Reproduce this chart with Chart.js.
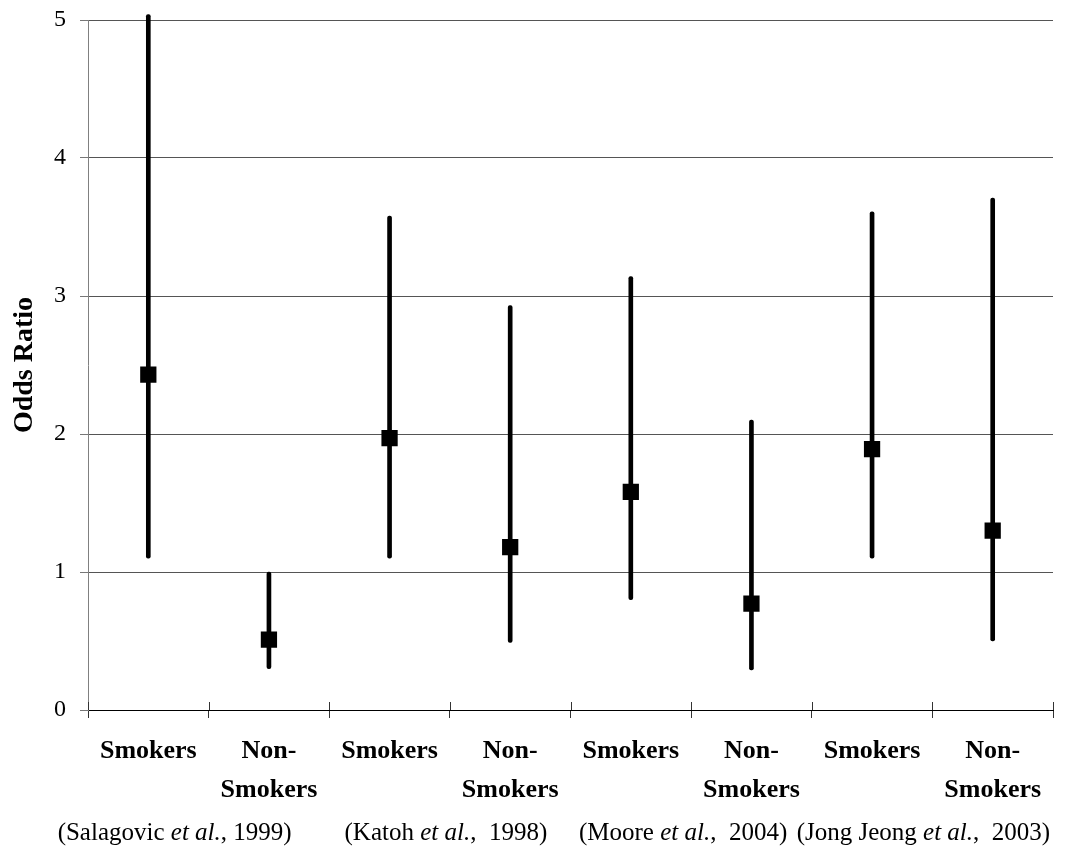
<!DOCTYPE html>
<html>
<head>
<meta charset="utf-8">
<script src="https://cdn.jsdelivr.net/npm/chart.js@4.4.1/dist/chart.umd.min.js"></script>
<style>
  html, body { margin: 0; padding: 0; background: #ffffff; }
  #wrap { width: 1078px; height: 848px; }
</style>
</head>
<body>
<div id="wrap"><canvas id="c" width="1078" height="848"></canvas></div>
<script>
// ---- data ----
const categories = [["Smokers"], ["Non-", "Smokers"], ["Smokers"], ["Non-", "Smokers"],
                    ["Smokers"], ["Non-", "Smokers"], ["Smokers"], ["Non-", "Smokers"]];
const oddsRatio = [2.43, 0.51, 1.97, 1.18, 1.58, 0.77, 1.89, 1.30];
const ciLower   = [1.10, 0.30, 1.10, 0.49, 0.80, 0.29, 1.10, 0.50];
const ciUpper   = [5.04, 1.00, 3.58, 2.93, 3.14, 2.10, 3.61, 3.71];
const studyAuthors = ["Salagovic", "Katoh", "Moore", "Jong Jeong"];
const studyYears   = ["1999", "1998", "2004", "2003"];
const studySep     = [", ", ",  ", ",  ", ",  "];
const yTicks = [0, 1, 2, 3, 4, 5];

const SERIF = "'Liberation Serif', 'Times New Roman', serif";

const ciRanges = ciLower.map((lo, i) => [lo, ciUpper[i]]);

// inner half of the category tick marks (ticks cross the axis line)
const crossTicks = {
  id: 'crossTicks',
  afterDraw(chart) {
    const xs = chart.scales.x;
    const ctx = chart.ctx;
    const n = categories.length;
    const step = xs.getPixelForValue(1) - xs.getPixelForValue(0);
    const start = xs.getPixelForValue(0) - step / 2;
    const yb = chart.chartArea.bottom;
    ctx.save();
    ctx.strokeStyle = '#333333';
    ctx.lineWidth = 1;
    ctx.beginPath();
    for (let i = 0; i <= n; i++) {
      const x = Math.round(start + i * step) + 0.5;
      ctx.moveTo(x, yb - 8);
      ctx.lineTo(x, yb);
    }
    ctx.stroke();
    ctx.restore();
  }
};

// study labels below each Smokers / Non-Smokers pair
const studyLabels = {
  id: 'studyLabels',
  afterDraw(chart) {
    const xs = chart.scales.x;
    const ctx = chart.ctx;
    const offsets = [-34, -4, -8, -9];
    const y = 840;
    const normal = "25px " + SERIF;
    const italic = "italic 25px " + SERIF;
    ctx.save();
    ctx.fillStyle = '#000000';
    ctx.textBaseline = 'alphabetic';
    ctx.textAlign = 'left';
    studyAuthors.forEach((a, i) => {
      const cx = (xs.getPixelForValue(2 * i) + xs.getPixelForValue(2 * i + 1)) / 2 + offsets[i];
      const parts = [
        { t: "(" + a + " ", f: normal },
        { t: "et al.", f: italic },
        { t: studySep[i] + studyYears[i] + ")", f: normal }
      ];
      let w = 0;
      parts.forEach(p => { ctx.font = p.f; p.w = ctx.measureText(p.t).width; w += p.w; });
      let x = cx - w / 2;
      parts.forEach(p => { ctx.font = p.f; ctx.fillText(p.t, x, y); x += p.w; });
    });
    ctx.restore();
  }
};

new Chart(document.getElementById('c'), {
  type: 'bar',
  data: {
    labels: categories,
    datasets: [
      {
        type: 'line',
        label: 'Odds ratio',
        data: oddsRatio,
        showLine: false,
        pointStyle: 'rect',
        pointRadius: 11.5,
        pointHoverRadius: 11.5,
        pointBackgroundColor: '#000000',
        pointBorderColor: '#000000',
        pointBorderWidth: 0,
        order: 0
      },
      {
        type: 'bar',
        label: '95% CI',
        data: ciRanges,
        backgroundColor: '#000000',
        borderWidth: 0,
        barThickness: 4,
        borderRadius: 2,
        borderSkipped: false,
        clip: false,
        order: 1
      }
    ]
  },
  options: {
    responsive: false,
    animation: false,
    events: [],
    layout: { padding: { left: 0, right: 25, top: 20, bottom: 0 } },
    plugins: {
      legend: { display: false },
      tooltip: { enabled: false }
    },
    scales: {
      x: {
        type: 'category',
        offset: true,
        afterFit(s) { s.height = 138; },
        grid: {
          offset: true,
          drawOnChartArea: false,
          drawTicks: true,
          tickLength: 8,
          color: '#333333',
          lineWidth: 1
        },
        border: { display: true, color: '#000000', width: 1 },
        ticks: {
          color: '#000000',
          font: { family: SERIF, size: 26, weight: 'bold', lineHeight: '39px' },
          padding: 14,
          maxRotation: 0,
          minRotation: 0,
          autoSkip: false
        }
      },
      y: {
        min: 0,
        max: 5,
        afterFit(s) { s.width = 88; s.paddingTop = 0; s.paddingBottom = 0; },
        afterBuildTicks(s) { s.ticks = yTicks.map(v => ({ value: v })); },
        grid: {
          color: '#555555',
          lineWidth: 1,
          tickLength: 8,
          tickColor: '#777777'
        },
        border: { display: true, color: '#808080', width: 1 },
        ticks: {
          color: '#000000',
          font: { family: SERIF, size: 24 },
          padding: 14
        },
        title: {
          display: true,
          text: 'Odds Ratio',
          color: '#000000',
          font: { family: SERIF, size: 28, weight: 'bold', lineHeight: 1.2 },
          padding: { top: 8, bottom: 0 }
        }
      }
    }
  },
  plugins: [crossTicks, studyLabels]
});
</script>
</body>
</html>
